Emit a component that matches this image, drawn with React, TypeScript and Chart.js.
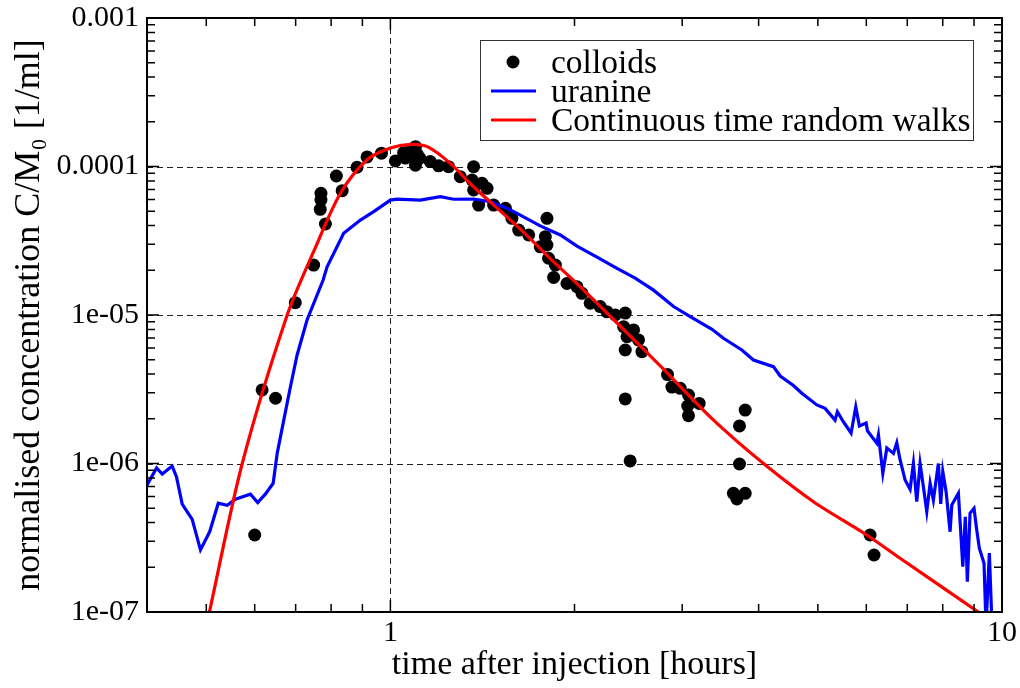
import { useEffect, useRef } from 'react';
import { Chart, registerables } from 'chart.js';

Chart.register(...registerables);

// ---------- data ----------
const COLLOID_TIME = [
  0.600, 0.617, 0.649, 0.699, 0.749, 0.770, 0.770, 0.768, 0.783, 0.816,
  0.834, 0.882, 0.916, 0.967, 1.019, 1.051, 1.058, 1.078, 1.085, 1.099,
  1.106, 1.099, 1.117, 1.162, 1.199, 1.245, 1.301, 1.368, 1.360, 1.368,
  1.412, 1.439, 1.394, 1.475, 1.542, 1.580, 1.621, 1.683, 1.803, 1.792,
  1.803, 1.758, 1.814, 1.849, 1.861, 1.944, 2.019, 2.057, 2.122, 2.203,
  2.260, 2.332, 2.421, 2.406, 2.498, 2.437, 2.545, 2.421, 2.578, 2.421,
  2.466, 2.839, 2.886, 2.978, 3.072, 3.198, 3.063, 3.072, 3.803, 3.722,
  3.722, 3.638, 3.803, 3.686, 6.085, 6.177,
];
const COLLOID_CONC = [
  3.30e-7, 3.13e-6, 2.75e-6, 1.21e-5, 2.17e-5, 6.60e-5, 5.95e-5, 5.15e-5, 4.10e-5, 8.63e-5,
  6.87e-5, 9.88e-5, 1.16e-4, 1.23e-4, 1.09e-4, 1.24e-4, 1.14e-4, 1.28e-4, 1.16e-4, 1.36e-4,
  1.21e-4, 1.02e-4, 1.14e-4, 1.08e-4, 1.01e-4, 9.97e-5, 8.54e-5, 9.97e-5, 8.11e-5, 6.95e-5,
  7.70e-5, 7.13e-5, 5.50e-5, 5.50e-5, 5.23e-5, 4.48e-5, 3.73e-5, 3.46e-5, 4.48e-5, 3.37e-5,
  2.96e-5, 2.88e-5, 2.41e-5, 1.79e-5, 2.17e-5, 1.63e-5, 1.55e-5, 1.40e-5, 1.20e-5, 1.14e-5,
  1.05e-5, 1.00e-5, 1.03e-5, 8.34e-6, 7.93e-6, 7.14e-6, 6.79e-6, 5.81e-6, 5.66e-6, 2.72e-6,
  1.04e-6, 3.97e-6, 3.27e-6, 3.21e-6, 2.89e-6, 2.54e-6, 2.44e-6, 2.10e-6, 2.29e-6, 1.79e-6,
  9.92e-7, 6.30e-7, 6.30e-7, 5.77e-7, 3.30e-7, 2.42e-7,
];

const URANINE_TIME = [
  0.398, 0.4147, 0.4236, 0.4397, 0.4469, 0.4567, 0.4742, 0.4892, 0.5066, 0.5231,
  0.5409, 0.558, 0.5904, 0.6069, 0.6249, 0.6432, 0.653, 0.6694, 0.6864, 0.7039,
  0.7307, 0.7763, 0.788, 0.8387, 0.8933, 0.9391, 1.0, 1.025, 1.119, 1.207,
  1.269, 1.368, 1.457, 1.551, 1.631, 1.758, 1.896, 2.019, 2.177, 2.347,
  2.513, 2.693, 2.904, 3.092, 3.356, 3.504, 3.755, 3.923, 4.229, 4.339,
  4.56, 4.707, 4.98, 5.137, 5.334, 5.381, 5.504, 5.666, 5.767, 5.846,
  5.996, 6.025, 6.242, 6.28, 6.385, 6.482, 6.645, 6.729, 6.813, 6.943,
  7.075, 7.164, 7.255, 7.346, 7.438, 7.534, 7.629, 7.723, 7.87, 7.941,
  8.002, 8.102, 8.225, 8.278, 8.486, 8.628, 8.71, 8.777, 8.866, 9.0,
  9.093, 9.182, 9.346, 9.417, 9.535, 9.632,
];
const URANINE_CONC = [
  6.9e-7, 9.33e-7, 8.49e-7, 9.61e-7, 8.15e-7, 5.33e-7, 4.21e-7, 2.62e-7, 3.48e-7, 5.4e-7,
  5.23e-7, 5.74e-7, 6.21e-7, 5.45e-7, 6.24e-7, 7.36e-7, 1.17e-6, 1.96e-6, 3.29e-6, 5.38e-6,
  9.25e-6, 1.72e-5, 2.11e-5, 3.55e-5, 4.36e-5, 4.97e-5, 5.94e-5, 6.03e-5, 5.94e-5, 6.26e-5,
  6.02e-5, 6.04e-5, 5.79e-5, 5.23e-5, 4.71e-5, 3.98e-5, 3.46e-5, 2.91e-5, 2.45e-5, 2.06e-5,
  1.77e-5, 1.47e-5, 1.14e-5, 9.74e-6, 8.01e-6, 6.97e-6, 5.81e-6, 4.98e-6, 4.49e-6, 3.88e-6,
  3.35e-6, 2.97e-6, 2.48e-6, 2.35e-6, 1.96e-6, 2.23e-6, 1.91e-6, 1.6e-6, 2.41e-6, 1.79e-6,
  1.87e-6, 1.66e-6, 1.37e-6, 1.56e-6, 8.59e-7, 1.27e-6, 1.17e-6, 1.38e-6, 1.06e-6, 7.74e-7,
  6.7e-7, 1.0e-6, 5.53e-7, 1.0e-6, 6.98e-7, 4.74e-7, 7.35e-7, 5.68e-7, 1.0e-6, 5.34e-7,
  8.81e-7, 6.46e-7, 3.47e-7, 5.25e-7, 6.3e-7, 2.02e-7, 4.38e-7, 1.6e-7, 4.62e-7, 4.99e-7,
  3.57e-7, 2.69e-7, 2.13e-7, 8e-8, 2.49e-7, 8e-8,
];

const CTRW_TIME = [
  0.494, 0.506, 0.5725, 0.6781, 0.7499, 0.8286, 0.9161, 1.0, 1.078, 1.149,
  1.253, 1.366, 1.631, 1.826, 2.070, 2.277, 2.762, 3.376, 4.074, 4.918,
  6.010, 6.813, 9.147, 10,
];
const CTRW_CONC = [
  6.3e-8, 1e-7, 1e-6, 1e-5, 2.7e-5, 6.6e-5, 1.11e-4, 1.33e-4, 1.41e-4, 1.36e-4,
  1.05e-4, 7.33e-5, 3.79e-5, 2.40e-5, 1.47e-5, 1.0e-5, 4.54e-6, 1.96e-6, 1.0e-6, 5.53e-7,
  3.30e-7, 2.30e-7, 1e-7, 7.7e-8,
];

const SERIES_NAMES = ['colloids', 'uranine', 'Continuous time random walks'];
const X_MAJOR = [1, 10];
const X_LABELS = ['1', '10'];
const Y_MAJOR = [1e-7, 1e-6, 1e-5, 1e-4, 1e-3];
const Y_LABELS = ['1e-07', '1e-06', '1e-05', '0.0001', '0.001'];
const X_TITLE = 'time after injection [hours]';
const Y_TITLE = 'normalised concentration C/M\u2080 [1/ml]';

const X_MIN = 0.4;
const X_MAX = 10;
const Y_MIN = 1e-7;
const Y_MAX = 1e-3;

const FONT = '"Liberation Serif", "Times New Roman", serif';

const isMajor = (v: number, majors: number[]) =>
  majors.findIndex((m) => Math.abs(Math.log10(v / m)) < 1e-6);

const logTicks = (min: number, max: number) => {
  const out: { value: number }[] = [];
  const d0 = Math.floor(Math.log10(min));
  const d1 = Math.ceil(Math.log10(max));
  for (let d = d0; d <= d1; d++) {
    for (let k = 1; k <= 9; k++) {
      const v = k * Math.pow(10, d);
      if (v >= min * (1 - 1e-9) && v <= max * (1 + 1e-9)) out.push({ value: v });
    }
  }
  return out;
};

const framePlugin = {
  id: 'frameAndLegend',
  beforeDatasetsDraw(chart: any) {
    const { ctx, chartArea } = chart;
    const { left, right, top, bottom } = chartArea;
    const xs = chart.scales.x;
    const ys = chart.scales.y;
    ctx.save();
    ctx.strokeStyle = '#222';
    ctx.lineWidth = 1;
    ctx.setLineDash([6, 4]);
    X_MAJOR.forEach((v) => {
      const px = Math.round(xs.getPixelForValue(v)) + 0.5;
      if (px > left + 2 && px < right - 2) {
        ctx.beginPath();
        ctx.moveTo(px, top);
        ctx.lineTo(px, bottom);
        ctx.stroke();
      }
    });
    Y_MAJOR.forEach((v) => {
      const py = Math.round(ys.getPixelForValue(v)) + 0.5;
      if (py > top + 2 && py < bottom - 2) {
        ctx.beginPath();
        ctx.moveTo(left, py);
        ctx.lineTo(right, py);
        ctx.stroke();
      }
    });
    ctx.restore();
  },
  afterDatasetsDraw(chart: any) {
    const { ctx, chartArea } = chart;
    const { left, right, top, bottom } = chartArea;
    const xs = chart.scales.x;
    const ys = chart.scales.y;
    ctx.save();
    ctx.strokeStyle = '#000';
    ctx.lineWidth = 1.5;
    ctx.setLineDash([]);
    xs.ticks.forEach((t: any) => {
      const px = xs.getPixelForValue(t.value);
      if (px <= left + 1 || px >= right - 1) return;
      const len = isMajor(t.value, X_MAJOR) >= 0 ? 12 : 8;
      ctx.beginPath();
      ctx.moveTo(px, bottom);
      ctx.lineTo(px, bottom - len);
      ctx.moveTo(px, top);
      ctx.lineTo(px, top + len);
      ctx.stroke();
    });
    ys.ticks.forEach((t: any) => {
      const py = ys.getPixelForValue(t.value);
      if (py <= top + 1 || py >= bottom - 1) return;
      const len = isMajor(t.value, Y_MAJOR) >= 0 ? 12 : 8;
      ctx.beginPath();
      ctx.moveTo(left, py);
      ctx.lineTo(left + len, py);
      ctx.moveTo(right, py);
      ctx.lineTo(right - len, py);
      ctx.stroke();
    });
    ctx.lineWidth = 2;
    ctx.strokeRect(left, top, right - left, bottom - top);

    // legend
    const lx = 481;
    const ly = 41;
    const lw = 492;
    const lh = 99;
    ctx.fillStyle = '#fff';
    ctx.fillRect(lx, ly, lw, lh);
    ctx.lineWidth = 1;
    ctx.strokeStyle = '#333';
    ctx.strokeRect(lx - 0.5, ly - 0.5, lw + 1, lh + 1);
    const rows = [62, 91, 120];
    const ds = chart.data.datasets;
    ctx.font = `33.5px ${FONT}`;
    ctx.textBaseline = 'middle';
    ctx.textAlign = 'left';
    SERIES_NAMES.forEach((name, i) => {
      const y = rows[i];
      const d = ds[i];
      if (d.showLine) {
        ctx.strokeStyle = d.borderColor;
        ctx.lineWidth = 3;
        ctx.beginPath();
        ctx.moveTo(491, y);
        ctx.lineTo(536, y);
        ctx.stroke();
      } else {
        ctx.fillStyle = d.backgroundColor;
        ctx.beginPath();
        ctx.arc(513, y, 6.5, 0, Math.PI * 2);
        ctx.fill();
      }
      ctx.fillStyle = '#000';
      ctx.fillText(name, 551, y + 2);
    });
    ctx.restore();
  },
};

export default function App() {
  const canvasRef = useRef<HTMLCanvasElement | null>(null);

  useEffect(() => {
    const canvas = canvasRef.current;
    if (!canvas) return;
    const toPts = (xs: number[], ys: number[]) => xs.map((x, i) => ({ x, y: ys[i] }));

    const chart = new Chart(canvas, {
      type: 'scatter',
      data: {
        datasets: [
          {
            label: SERIES_NAMES[0],
            data: toPts(COLLOID_TIME, COLLOID_CONC),
            showLine: false,
            pointRadius: 6.5,
            pointBorderWidth: 0,
            backgroundColor: '#000',
            borderColor: '#000',
            order: 3,
          },
          {
            label: SERIES_NAMES[1],
            data: toPts(URANINE_TIME, URANINE_CONC),
            showLine: true,
            pointRadius: 0,
            borderColor: '#0000ff',
            backgroundColor: '#0000ff',
            borderWidth: 3.2,
            tension: 0,
            order: 2,
          },
          {
            label: SERIES_NAMES[2],
            data: toPts(CTRW_TIME, CTRW_CONC),
            showLine: true,
            pointRadius: 0,
            borderColor: '#ff0000',
            backgroundColor: '#ff0000',
            borderWidth: 3.2,
            tension: 0.3,
            order: 1,
          },
        ],
      } as any,
      options: {
        animation: false,
        responsive: false,
        devicePixelRatio: 1,
        events: [],
        layout: { padding: { left: 0, right: 18, top: 18, bottom: 0 } },
        plugins: {
          legend: { display: false },
          tooltip: { enabled: false },
        },
        scales: {
          x: {
            type: 'logarithmic',
            position: 'bottom',
            min: X_MIN,
            max: X_MAX,
            grid: { display: false, drawTicks: false },
            border: { display: false },
            afterBuildTicks: (scale: any) => {
              scale.ticks = logTicks(X_MIN, X_MAX);
            },
            afterFit: (scale: any) => {
              scale.height = 76;
              scale.paddingLeft = 0;
              scale.paddingRight = 0;
            },
            ticks: {
              autoSkip: false,
              maxRotation: 0,
              padding: 3,
              color: '#000',
              font: { family: FONT, size: 30 },
              callback: (v: any) => {
                const i = isMajor(Number(v), X_MAJOR);
                return i >= 0 ? X_LABELS[i] : '';
              },
            },
            title: {
              display: true,
              text: X_TITLE,
              color: '#000',
              font: { family: FONT, size: 34 },
              padding: { top: 0, bottom: 3 },
            },
          },
          y: {
            type: 'logarithmic',
            position: 'left',
            min: Y_MIN,
            max: Y_MAX,
            grid: { display: false, drawTicks: false },
            border: { display: false },
            afterBuildTicks: (scale: any) => {
              scale.ticks = logTicks(Y_MIN, Y_MAX);
            },
            afterFit: (scale: any) => {
              scale.width = 147;
              scale.paddingTop = 0;
              scale.paddingBottom = 0;
            },
            ticks: {
              autoSkip: false,
              padding: 8,
              color: '#000',
              font: { family: FONT, size: 30 },
              callback: (v: any) => {
                const i = isMajor(Number(v), Y_MAJOR);
                return i >= 0 ? Y_LABELS[i] : '';
              },
            },
            title: {
              display: true,
              text: Y_TITLE,
              color: '#000',
              font: { family: FONT, size: 36 },
              padding: { top: 8, bottom: 0 },
            },
          },
        },
      } as any,
      plugins: [framePlugin],
    });

    return () => chart.destroy();
  }, []);

  return (
    <div style={{ position: 'fixed', left: 0, top: 0, width: 1020, height: 688, background: '#fff' }}>
      <canvas ref={canvasRef} width={1020} height={688} style={{ display: 'block' }} />
    </div>
  );
}
